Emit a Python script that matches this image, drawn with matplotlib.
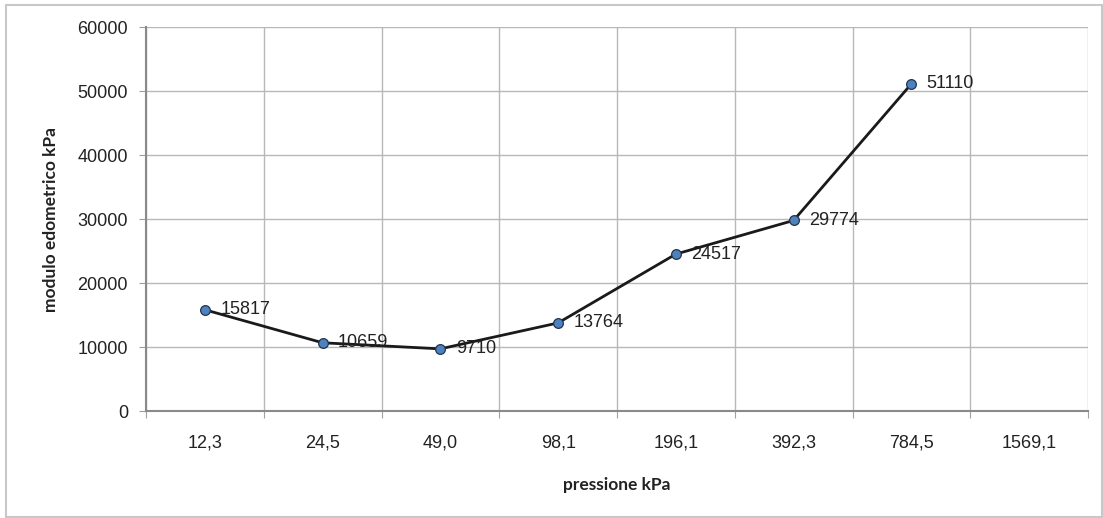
import matplotlib.pyplot as plt
from matplotlib.patches import Rectangle

pressure_labels = ['12,3', '24,5', '49,0', '98,1', '196,1', '392,3', '784,5', '1569,1']
modulus = [15817, 10659, 9710, 13764, 24517, 29774, 51110]

plt.rcParams['font.family'] = ['Liberation Sans', 'DejaVu Sans']

fig = plt.figure(figsize=(11.03, 5.18), dpi=100)
W, H = 1103, 518
left, right, top, bottom = 146, 1088, 27, 411
ax = fig.add_axes([left / W, 1 - bottom / H, (right - left) / W, (bottom - top) / H])

# categories sit at the centres, gridlines on the boundaries
x = [i + 0.5 for i in range(len(modulus))]
ax.plot(x, modulus, color='#1a1a1a', lw=2, marker='o', ms=7,
        mfc='#4F81BD', mec='#1f3550', mew=0.9, zorder=3)
for xi, v in zip(x, modulus):
    ax.annotate(str(v), (xi, v), xytext=(11, 0), textcoords='offset points',
                va='center', ha='left', fontsize=13, color='#222222', zorder=4)

ax.set_xlim(0, len(pressure_labels))
ax.set_ylim(0, 60000)
ax.set_yticks(range(0, 60001, 10000))
ax.set_xticks(range(len(pressure_labels) + 1))
ax.set_xticklabels([])
ax.set_xticks([i + 0.5 for i in range(len(pressure_labels))], minor=True)
ax.set_xticklabels(pressure_labels, minor=True)
ax.tick_params(axis='x', which='minor', length=0, pad=17, labelsize=13, labelcolor='#222222')
ax.tick_params(axis='x', which='major', length=5, color='#a0a0a0')
ax.tick_params(axis='y', length=5, color='#a0a0a0', pad=8, labelsize=13, labelcolor='#222222')

ax.grid(True, which='major', color='#b8b8b8', lw=1)
ax.set_axisbelow(True)
for side in ['top', 'right']:
    ax.spines[side].set_visible(False)
ax.spines['left'].set_color('#8a8a8a')
ax.spines['bottom'].set_color('#8a8a8a')
ax.spines['left'].set_linewidth(1.5)
ax.spines['bottom'].set_linewidth(1.5)

ax.set_xlabel('pressione kPa', fontsize=12.5, fontweight='bold', family='Lato',
              color='#222222', labelpad=18)
ax.set_ylabel('modulo edometrico kPa', fontsize=12.5, fontweight='bold', family='Lato',
              color='#222222', labelpad=13)

# chart frame
fig.patches.append(Rectangle((6 / W, 1 / H), (W - 7) / W, (H - 6) / H,
                             transform=fig.transFigure, fill=False,
                             ec='#c8c8c8', lw=1.5))

fig.savefig('out.png', dpi=100)
